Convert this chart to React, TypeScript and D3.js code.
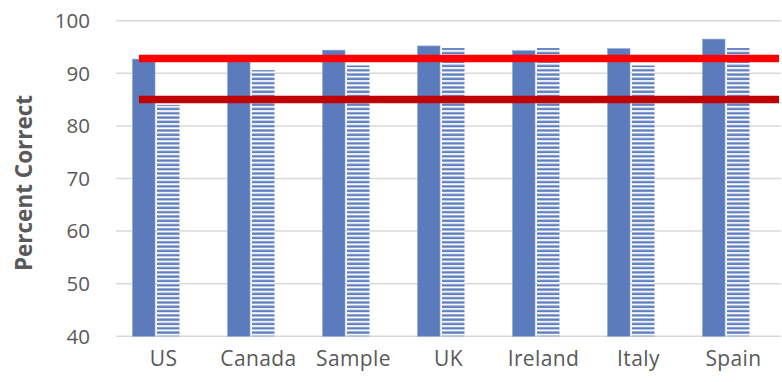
import React from "react";
import * as d3 from "d3";

// Percent correct by country, two measures per country
const categories = ["US", "Canada", "Sample", "UK", "Ireland", "Italy", "Spain"];
const seriesNames = ["Solid", "Striped"];
const solidValues = [92.7, 92.6, 94.4, 95.2, 94.3, 94.7, 96.5];
const stripedValues = [84.0, 90.6, 91.5, 94.8, 94.8, 91.5, 94.8];
const yTicks = [40, 50, 60, 70, 80, 90, 100];
const referenceLines = [
  { value: 92.8, color: "#ff0000" },
  { value: 85.0, color: "#c00000" },
];

const W = 782;
const H = 382;
const margin = { top: 20.7, right: 1, bottom: 46, left: 116 };

export default function App() {
  const x = d3
    .scaleBand<string>()
    .domain(categories)
    .range([margin.left, W - margin.right]);
  const y = d3
    .scaleLinear()
    .domain([40, 100])
    .range([336.3, margin.top]);
  const inner = d3
    .scaleBand<string>()
    .domain(seriesNames)
    .range([-31, 16])
    .paddingInner(0.08);

  const textColor = "#595959";
  const font = "'Open Sans', sans-serif";

  return (
    <svg
      width={W}
      height={H}
      style={{ position: "absolute", left: 0, top: 0, background: "#fff" }}
    >
      <defs>
        <pattern
          id="hstripes"
          patternUnits="userSpaceOnUse"
          width={8}
          height={4.3}
        >
          <rect width={8} height={4.3} fill="#ffffff" />
          <rect y={0.3} width={8} height={2.4} fill="#5f7fbf" />
        </pattern>
      </defs>

      {/* horizontal gridlines */}
      {yTicks.map((t) => (
        <line
          key={t}
          x1={margin.left}
          x2={W - margin.right}
          y1={y(t)}
          y2={y(t)}
          stroke="#d9d9d9"
          strokeWidth={1.5}
        />
      ))}

      {/* y tick labels */}
      {yTicks.map((t) => (
        <text
          key={"l" + t}
          x={90}
          y={y(t)}
          dy="0.36em"
          textAnchor="end"
          fontFamily={font}
          fontSize={20.5}
          fill={textColor}
        >
          {t}
        </text>
      ))}

      {/* bars */}
      {categories.map((c, i) => {
        const cx = (x(c) ?? 0) + x.bandwidth() / 2;
        const bw = inner.bandwidth();
        const xs = cx + (inner("Solid") ?? 0);
        const xp = cx + (inner("Striped") ?? 0);
        return (
          <g key={c}>
            <rect
              x={xs}
              y={y(solidValues[i])}
              width={bw}
              height={y(40) - y(solidValues[i])}
              fill="#5b7bbd"
              stroke="#8ea6d6"
              strokeWidth={0.6}
            />
            <rect
              x={xp}
              y={y(stripedValues[i])}
              width={bw}
              height={y(40) - y(stripedValues[i])}
              fill="url(#hstripes)"
            />
          </g>
        );
      })}

      {/* reference lines */}
      {referenceLines.map((r) => (
        <line
          key={r.value}
          x1={139}
          x2={779}
          y1={y(r.value)}
          y2={y(r.value)}
          stroke={r.color}
          strokeWidth={7.5}
        />
      ))}

      {/* category labels */}
      {categories.map((c) => (
        <text
          key={"c" + c}
          x={(x(c) ?? 0) + x.bandwidth() / 2}
          y={366}
          textAnchor="middle"
          fontFamily={font}
          fontSize={21}
          letterSpacing={0.4}
          fill={textColor}
        >
          {c}
        </text>
      ))}

      {/* y axis title */}
      <text
        transform={`translate(32, 183) rotate(-90)`}
        textAnchor="middle"
        fontFamily={font}
        fontWeight="bold"
        fontSize={22.5}
        fill={textColor}
      >
        Percent Correct
      </text>
    </svg>
  );
}
